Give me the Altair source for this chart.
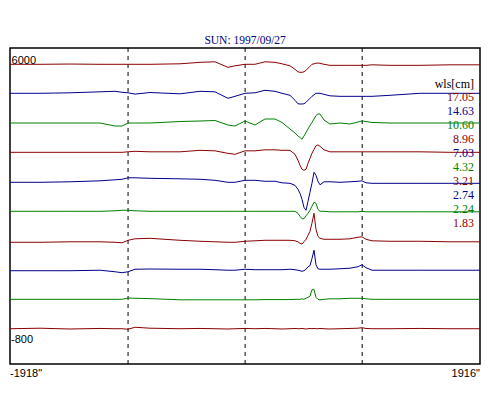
import altair as alt
import pandas as pd

# Position across the solar disk, arcsec
X = [-1918, -1673, -1429, -1184, -1061, -1004, -955, -898, -776, -531,
     -368, -246, -140, -83, -1, 80, 162, 244, 301, 366,
     407, 431, 448, 464, 480, 497, 513, 529, 545, 562,
     578, 594, 611, 643, 692, 774, 855, 921, 953, 986,
     1035, 1182, 1426, 1671, 1916]

WLS = ["17.05", "14.63", "10.60", "8.96", "7.03", "4.32", "3.21", "2.74", "2.24", "1.83"]
LINE_COLORS = ["#8b0000", "#00008b", "#008000", "#8b0000", "#00008b",
               "#008000", "#8b0000", "#00008b", "#008000", "#8b0000"]
OFFSETS = [5649, 5025, 4386, 3755, 3110, 2486, 1819, 1207, 592, -41]

S_1705 = [0, 0, 6, 0, 0, 0, 0, 0, 0, 11, 43, 54, -65, -32, 0, 0, 54, 43, 11, -32,
          -108, -161, -172, -172, -161, -129, -86, -43, 0, 11, 22, 28, 22, 0, -22, -22, -22, -22, -22, -22,
          -11, -22, -22, -11, -11]
S_1463 = [0, 0, 11, 32, 43, 22, 11, -17, 17, -11, 43, 32, -108, -65, 0, 11, 65, 43, 0, -43,
          -151, -226, -230, -230, -226, -194, -151, -108, -65, -32, 0, 0, 0, -22, -54, -65, -65, -65, -65, -65,
          -65, -43, 0, 0, 0]
S_1060 = [0, 0, 0, 0, -65, -65, 0, 0, 0, 32, 43, 54, -43, -65, 43, -43, 86, 86, 11, -129,
          -215, -280, -312, -350, -280, -204, -129, -54, 11, 86, 161, 194, 194, 65, -22, 0, -22, 22, 43, 32,
          11, 0, 0, 0, 0]
S_896 = [0, 0, 0, 0, 0, 0, 11, 22, 11, 11, 43, 32, -22, -43, 32, 32, 54, 54, 43, 43,
         -43, -172, -280, -366, -387, -366, -237, -129, -22, 65, 140, 161, 129, 54, 11, 11, 11, 11, 11, 11,
         11, 11, 11, 0, 0]
S_703 = [0, 0, 11, 32, 54, 65, 97, 97, 86, 75, 65, 43, 0, 0, 43, 43, 22, 22, -11, -22,
         -65, -151, -237, -366, -538, -602, -409, -215, -22, 215, 151, 22, -54, 11, 11, 0, 11, 22, 32, -11,
         -22, -22, -22, -22, -22]
S_432 = [0, 0, 0, 0, 11, 22, 22, 11, 0, 0, 0, 0, 0, 0, 0, 0, 0, 0, 0, 0,
         0, -43, -108, -161, -161, -97, -43, 22, 108, 194, 172, 43, 0, 0, -11, -11, -11, -11, 0, -11,
         -11, -11, -11, -11, -11]
S_321 = [0, 0, 11, 11, 0, -11, 43, 75, 86, 43, 22, 11, 0, 0, 22, 32, 43, 43, 43, 43,
         32, 11, -22, -37, 11, 65, 151, 237, 409, 624, 280, 129, 86, 65, 65, 65, 75, 108, 118, 65,
         32, 22, 22, 11, 11]
S_274 = [0, 0, 0, 11, -22, -43, -22, 32, 37, 32, 32, 22, 11, 11, 32, 22, 22, 22, 22, 32,
         22, 11, 0, -11, 0, 32, 86, 108, 258, 441, 129, 43, 32, 32, 32, 43, 54, 86, 129, 65,
         11, 11, 11, 11, 11]
S_224 = [0, 0, 0, 0, 0, 0, 28, 22, 15, -11, -11, -11, -11, -11, -11, -11, -6, -6, -6, -6,
         0, 0, 0, 11, 0, 22, 43, 65, 204, 215, 43, 0, -11, 0, 11, 11, 22, 22, 22, 11,
         0, 0, 0, 0, 0]
S_183 = [0, 11, -6, 6, 0, 0, -11, 32, 11, 0, 6, 0, -6, 0, 6, 0, 6, 0, -6, 0,
         6, 0, 0, 6, 0, -6, 0, 6, 0, 6, 0, 0, 6, 0, -6, 0, 6, 11, 22, 6,
         0, 0, 6, 0, 0]
SIGNALS = [S_1705, S_1463, S_1060, S_896, S_703, S_432, S_321, S_274, S_224, S_183]

LIMBS = [-955, 0, 955]

# Right-hand legend labels
LABEL_Y = [4946, 4644, 4343, 4042, 3740, 3439, 3138, 2837, 2535, 2234]

rows = []
for wl, off, sig in zip(WLS, OFFSETS, SIGNALS):
    for x, s in zip(X, sig):
        rows.append({"x": x, "y": off + s, "wl": wl})
df = pd.DataFrame(rows)

xs = alt.Scale(domain=[-1918, 1916], nice=False, zero=False)
ys = alt.Scale(domain=[-800, 6000], nice=False, zero=False)

lines = alt.Chart(df).mark_line(strokeWidth=1).encode(
    x=alt.X("x:Q", scale=xs, axis=None),
    y=alt.Y("y:Q", scale=ys, axis=None),
    color=alt.Color("wl:N", scale=alt.Scale(domain=WLS, range=LINE_COLORS), legend=None),
)

rules = alt.Chart(pd.DataFrame({"x": LIMBS})).mark_rule(
    color="black", strokeWidth=1, strokeDash=[4, 4]
).encode(x=alt.X("x:Q", scale=xs, axis=None))

wl_df = pd.DataFrame({"x": [1867] * 11, "y": [5225] + LABEL_Y,
                      "t": ["wls[cm]"] + WLS, "c": ["black"] + LINE_COLORS})
wl_text = alt.Chart(wl_df).mark_text(
    align="right", baseline="middle", font="Liberation Serif", fontSize=12
).encode(
    x=alt.X("x:Q", scale=xs, axis=None),
    y=alt.Y("y:Q", scale=ys, axis=None),
    text="t:N",
    color=alt.Color("c:N", scale=None),
)

left_df = pd.DataFrame({"x": [-1905, -1910, -1918], "y": [5720, -284, -1016],
                        "t": ["6000", "-800", "-1918\""]})
left_text = alt.Chart(left_df).mark_text(
    align="left", baseline="middle", font="Liberation Sans", fontSize=11, color="black"
).encode(
    x=alt.X("x:Q", scale=xs, axis=None),
    y=alt.Y("y:Q", scale=ys, axis=None),
    text="t:N",
)

right_df = pd.DataFrame({"x": [1916], "y": [-1016], "t": ["1916\""]})
right_text = alt.Chart(right_df).mark_text(
    align="right", baseline="middle", font="Liberation Sans", fontSize=11, color="black"
).encode(
    x=alt.X("x:Q", scale=xs, axis=None),
    y=alt.Y("y:Q", scale=ys, axis=None),
    text="t:N",
)

title_df = pd.DataFrame({"x": [0], "y": [6151], "t": ["SUN: 1997/09/27"]})
title_text = alt.Chart(title_df).mark_text(
    align="center", baseline="middle", font="Liberation Serif", fontSize=11.5, color="#000080"
).encode(
    x=alt.X("x:Q", scale=xs, axis=None),
    y=alt.Y("y:Q", scale=ys, axis=None),
    text="t:N",
)

chart = alt.layer(rules, lines, wl_text, left_text, right_text, title_text).properties(
    width=470,
    height=316,
    autosize=alt.AutoSizeParams(type="none"),
    padding={"left": 2, "top": 40, "right": 10, "bottom": 20},
    background="white",
).configure_view(stroke="black", strokeWidth=1.5)

chart.save("out.html", embed_options={"renderer": "svg", "actions": False})
